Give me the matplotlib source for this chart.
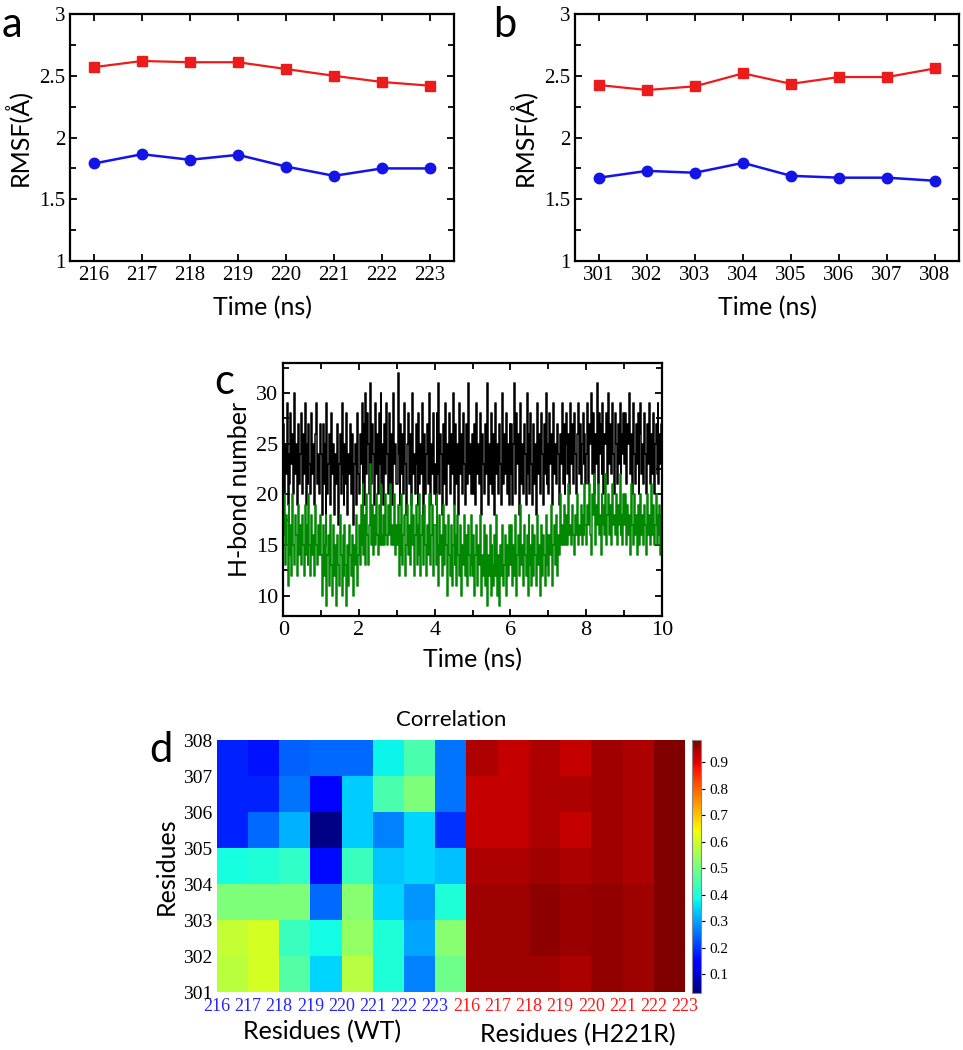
import numpy as np
import matplotlib
matplotlib.use('Agg')
import matplotlib.pyplot as plt
from matplotlib.ticker import MultipleLocator

# Data panel a (residues 216-223) dan panel b (residues 301-308)
time_a = [216, 217, 218, 219, 220, 221, 222, 223]
rmsf_a_red = [2.57, 2.62, 2.61, 2.61, 2.555, 2.50, 2.45, 2.42]
rmsf_a_blue = [1.79, 1.865, 1.82, 1.86, 1.765, 1.69, 1.75, 1.75]

time_b = [301, 302, 303, 304, 305, 306, 307, 308]
rmsf_b_red = [2.425, 2.385, 2.415, 2.52, 2.435, 2.49, 2.49, 2.56]
rmsf_b_blue = [1.675, 1.73, 1.715, 1.795, 1.69, 1.675, 1.675, 1.65]

# Data panel c: jumlah H-bond (dibaca per 0.025 ns)
hbond_black = [
    27, 20, 25, 22, 29, 19, 24, 21, 28, 23, 26, 20, 30, 22, 25, 19, 27, 21, 24, 28,
    20, 26, 22, 29, 19, 25, 21, 27, 23, 20, 28, 22, 25, 19, 26, 29, 21, 24, 20, 27,
    24, 18, 27, 21, 25, 17, 29, 20, 23, 26, 19, 28, 22, 25, 18, 24, 21, 27, 17, 23,
    26, 20, 29, 22, 19, 25, 21, 28, 18, 24, 22, 27, 20, 26, 17, 23, 25, 19, 28, 22,
    20, 26, 23, 29, 21, 27, 19, 30, 22, 28, 25, 20, 31, 21, 27, 24, 19, 29, 22, 26,
    20, 28, 23, 30, 21, 25, 19, 27, 22, 29, 24, 20, 28, 21, 26, 19, 30, 23, 25, 21,
    21, 32, 24, 19, 27, 22, 26, 20, 29, 23, 18, 25, 28, 21, 26, 19, 30, 22, 24, 20,
    27, 23, 19, 28, 21, 25, 22, 29, 18, 26, 20, 24, 27, 21, 30, 19, 25, 22, 28, 20,
    23, 19, 28, 22, 31, 20, 26, 24, 18, 27, 21, 29, 19, 25, 23, 28, 20, 26, 22, 30,
    19, 24, 27, 21, 25, 18, 29, 22, 26, 20, 28, 23, 19, 27, 21, 31, 22, 25, 20, 26,
    24, 20, 27, 19, 29, 22, 25, 21, 28, 18, 26, 23, 20, 27, 22, 31, 19, 25, 21, 28,
    24, 20, 26, 18, 29, 22, 25, 20, 27, 23, 19, 30, 21, 26, 22, 28, 20, 25, 19, 27,
    22, 27, 19, 25, 31, 20, 28, 23, 26, 18, 29, 21, 25, 20, 27, 24, 19, 30, 22, 26,
    20, 28, 23, 19, 27, 21, 25, 18, 29, 22, 26, 20, 28, 24, 19, 27, 22, 30, 21, 25,
    20, 28, 23, 26, 19, 29, 22, 25, 21, 27, 24, 19, 26, 23, 29, 21, 27, 20, 25, 28,
    22, 26, 20, 29, 23, 27, 21, 28, 24, 20, 26, 29, 22, 27, 21, 25, 28, 23, 26, 21,
    24, 29, 21, 27, 25, 30, 22, 28, 20, 26, 23, 31, 21, 28, 24, 27, 22, 29, 20, 26,
    25, 28, 21, 30, 23, 27, 22, 29, 24, 20, 28, 25, 21, 27, 23, 29, 22, 26, 24, 28,
    23, 28, 21, 27, 25, 30, 22, 26, 20, 29, 24, 21, 27, 23, 28, 20, 26, 29, 22, 25,
    21, 28, 24, 20, 27, 23, 29, 21, 26, 22, 28, 20, 25, 27, 22, 29, 21, 26, 23, 27,
]
hbond_green = [
    16, 20, 13, 18, 15, 11, 19, 14, 17, 12, 20, 15, 13, 18, 16, 12, 19, 14, 17, 13,
    18, 15, 12, 19, 14, 17, 13, 20, 15, 12, 18, 14, 16, 12, 19, 15, 13, 17, 14, 18,
    14, 10, 17, 12, 15, 18, 9, 14, 16, 11, 18, 13, 10, 17, 12, 15, 9, 16, 13, 11,
    18, 14, 10, 16, 12, 17, 13, 9, 15, 11, 17, 14, 12, 16, 10, 15, 13, 18, 11, 14,
    17, 13, 19, 15, 21, 14, 18, 13, 20, 16, 13, 17, 23, 15, 19, 14, 18, 15, 20, 16,
    14, 19, 15, 21, 16, 15, 18, 15, 20, 16, 15, 19, 16, 21, 15, 17, 15, 20, 14, 17,
    15, 19, 12, 17, 14, 20, 13, 16, 18, 12, 15, 19, 14, 17, 13, 20, 15, 18, 12, 16,
    19, 13, 17, 14, 20, 12, 16, 18, 13, 19, 15, 12, 17, 14, 20, 13, 16, 19, 12, 17,
    17, 13, 20, 15, 11, 18, 14, 16, 12, 19, 13, 17, 15, 10, 18, 14, 12, 17, 11, 15,
    19, 13, 16, 11, 18, 14, 12, 17, 10, 15, 13, 18, 12, 16, 11, 17, 14, 12, 18, 13,
    12, 16, 10, 14, 17, 11, 15, 13, 18, 10, 14, 12, 17, 11, 16, 9, 14, 12, 17, 10,
    15, 13, 11, 16, 12, 18, 10, 14, 9, 15, 12, 17, 11, 13, 16, 10, 15, 12, 17, 13,
    13, 17, 11, 15, 12, 18, 10, 14, 16, 12, 19, 13, 15, 11, 17, 14, 12, 16, 10, 18,
    13, 15, 11, 17, 12, 16, 14, 11, 18, 13, 15, 10, 17, 12, 16, 14, 11, 18, 13, 16,
    12, 16, 14, 19, 11, 15, 17, 13, 18, 12, 16, 14, 20, 15, 17, 15, 19, 16, 15, 18,
    15, 21, 16, 17, 15, 19, 16, 14, 18, 16, 20, 15, 17, 16, 19, 15, 18, 16, 21, 17,
    15, 19, 17, 21, 16, 14, 20, 18, 22, 15, 19, 17, 21, 16, 18, 14, 20, 17, 19, 16,
    22, 15, 18, 20, 16, 19, 15, 21, 17, 18, 16, 20, 15, 19, 17, 22, 16, 18, 15, 20,
    17, 20, 15, 19, 16, 18, 14, 21, 17, 15, 20, 16, 18, 14, 19, 17, 15, 20, 16, 18,
    15, 19, 17, 14, 20, 16, 18, 15, 21, 16, 19, 15, 17, 20, 15, 18, 16, 19, 14, 18,
]
time_black = np.linspace(0, 10, len(hbond_black))
time_green = np.linspace(0, 10, len(hbond_green))

# Data panel d: korelasi (baris 301->307, kolom residu)
res_x = ['216', '217', '218', '219', '220', '221', '222', '223']
res_y = ['301', '302', '303', '304', '305', '306', '307', '308']
corr_wt = [
    [0.58, 0.61, 0.46, 0.35, 0.575, 0.40, 0.27, 0.49],
    [0.59, 0.61, 0.43, 0.385, 0.535, 0.40, 0.305, 0.52],
    [0.51, 0.51, 0.51, 0.25, 0.52, 0.35, 0.29, 0.40],
    [0.39, 0.40, 0.42, 0.16, 0.43, 0.335, 0.35, 0.33],
    [0.18, 0.25, 0.315, 0.035, 0.34, 0.27, 0.35, 0.195],
    [0.18, 0.18, 0.26, 0.15, 0.34, 0.45, 0.51, 0.26],
    [0.18, 0.166, 0.24, 0.25, 0.25, 0.38, 0.45, 0.26],
]
corr_mut = [
    [0.958, 0.958, 0.958, 0.947, 0.970, 0.958, 0.985],
    [0.958, 0.958, 0.973, 0.962, 0.970, 0.958, 0.985],
    [0.958, 0.958, 0.973, 0.962, 0.970, 0.958, 0.985],
    [0.947, 0.947, 0.958, 0.947, 0.958, 0.945, 0.983],
    [0.929, 0.929, 0.945, 0.929, 0.958, 0.945, 0.983],
    [0.929, 0.929, 0.945, 0.945, 0.958, 0.945, 0.983],
    [0.945, 0.929, 0.945, 0.929, 0.958, 0.945, 0.983],
]

serif = 'Liberation Serif'
sans = 'Lato'
red = '#ec1c1c'
blue = '#1414e6'

fig = plt.figure(figsize=(9.63, 10.5), dpi=100)


def style_axes(ax):
    for s in ax.spines.values():
        s.set_linewidth(1.6)
    ax.tick_params(which='both', direction='in', top=True, right=True, width=1.3)
    ax.tick_params(which='major', length=5)
    ax.tick_params(which='minor', length=4)
    for lab in ax.get_xticklabels() + ax.get_yticklabels():
        lab.set_fontfamily(serif)


def rmsf_panel(rect, x, yr, yb):
    ax = fig.add_axes(rect)
    ax.plot(x, yr, color=red, lw=1.6, marker='s', ms=7)
    ax.plot(x, yb, color=blue, lw=1.8, marker='o', ms=7.5)
    ax.set_xlim(x[0] - 0.5, x[-1] + 0.5)
    ax.set_ylim(1, 3)
    ax.set_xticks(x)
    ax.set_yticks([1, 1.5, 2, 2.5, 3])
    ax.set_yticklabels(['1', '1.5', '2', '2.5', '3'])
    ax.yaxis.set_minor_locator(MultipleLocator(0.25))
    ax.tick_params(labelsize=15)
    style_axes(ax)
    ax.set_xlabel('Time (ns)', fontsize=18, family=sans, labelpad=8)
    ax.set_ylabel('RMSF(Å)', fontsize=18, family=sans, labelpad=6)
    return ax


ax_a = rmsf_panel([0.0727, 0.7514, 0.3988, 0.2352], time_a, rmsf_a_red, rmsf_a_blue)
ax_b = rmsf_panel([0.5971, 0.7514, 0.3988, 0.2352], time_b, rmsf_b_red, rmsf_b_blue)
fig.text(0.002, 0.976, 'a', fontsize=30, family=sans, va='center')
fig.text(0.512, 0.976, 'b', fontsize=30, family=sans, va='center')

# Panel c
ax_c = fig.add_axes([0.2942, 0.4133, 0.393, 0.2412])
ax_c.step(time_black, hbond_black, where='mid', color='black', lw=1.1)
ax_c.step(time_green, hbond_green, where='mid', color='#008800', lw=1.1)
ax_c.set_xlim(0, 10)
ax_c.set_ylim(8, 33)
ax_c.set_xticks([0, 2, 4, 6, 8, 10])
ax_c.set_yticks([10, 15, 20, 25, 30])
ax_c.xaxis.set_minor_locator(MultipleLocator(1))
ax_c.yaxis.set_minor_locator(MultipleLocator(2.5))
ax_c.tick_params(labelsize=16)
style_axes(ax_c)
ax_c.set_xlabel('Time (ns)', fontsize=18, family=sans, labelpad=6)
ax_c.set_ylabel('H-bond number', fontsize=18, family=sans, labelpad=4)
fig.text(0.222, 0.636, 'c', fontsize=30, family=sans, va='center')

# Panel d: heatmap korelasi
corr = np.hstack([np.array(corr_wt), np.array(corr_mut)])
ax_d = fig.add_axes([0.225, 0.0552, 0.4863, 0.24])
mesh = ax_d.pcolormesh(np.arange(corr.shape[1] + 1), np.arange(corr.shape[0] + 1), corr,
                       cmap='jet', vmin=0.03, vmax=0.985)
ax_d.set_xticks(np.arange(16))
ax_d.set_xticklabels(res_x + res_x, fontsize=13, family=serif)
for i, lab in enumerate(ax_d.get_xticklabels()):
    lab.set_color('#2424ff' if i < 8 else '#ff1a1a')
ax_d.set_yticks(np.arange(8))
ax_d.set_yticklabels(res_y, fontsize=14, family=serif)
ax_d.tick_params(axis='x', length=0, pad=4)
ax_d.tick_params(axis='y', length=0, pad=3)
for s in ax_d.spines.values():
    s.set_visible(False)
ax_d.set_title('Correlation', fontsize=16, family=sans, pad=10)
ax_d.set_ylabel('Residues', fontsize=18, family=sans, labelpad=4)

cax = fig.add_axes([0.7183, 0.0543, 0.0094, 0.241])
cb = fig.colorbar(mesh, cax=cax, ticks=np.arange(0.1, 0.95, 0.1))
cb.ax.set_yticklabels(['%.1f' % t for t in np.arange(0.1, 0.95, 0.1)], fontsize=11, family=serif)
cb.ax.tick_params(length=3, width=0.8)
cb.outline.set_edgecolor('#888888')

fig.text(322 / 963, 1 - 1032 / 1050, 'Residues (WT)', fontsize=18, family=sans, ha='center', va='center')
fig.text(578 / 963, 1 - 1035 / 1050, 'Residues (H221R)', fontsize=18, family=sans, ha='center', va='center')
fig.text(0.155, 0.286, 'd', fontsize=30, family=sans, va='center')

fig.savefig('out.png', dpi=100)
